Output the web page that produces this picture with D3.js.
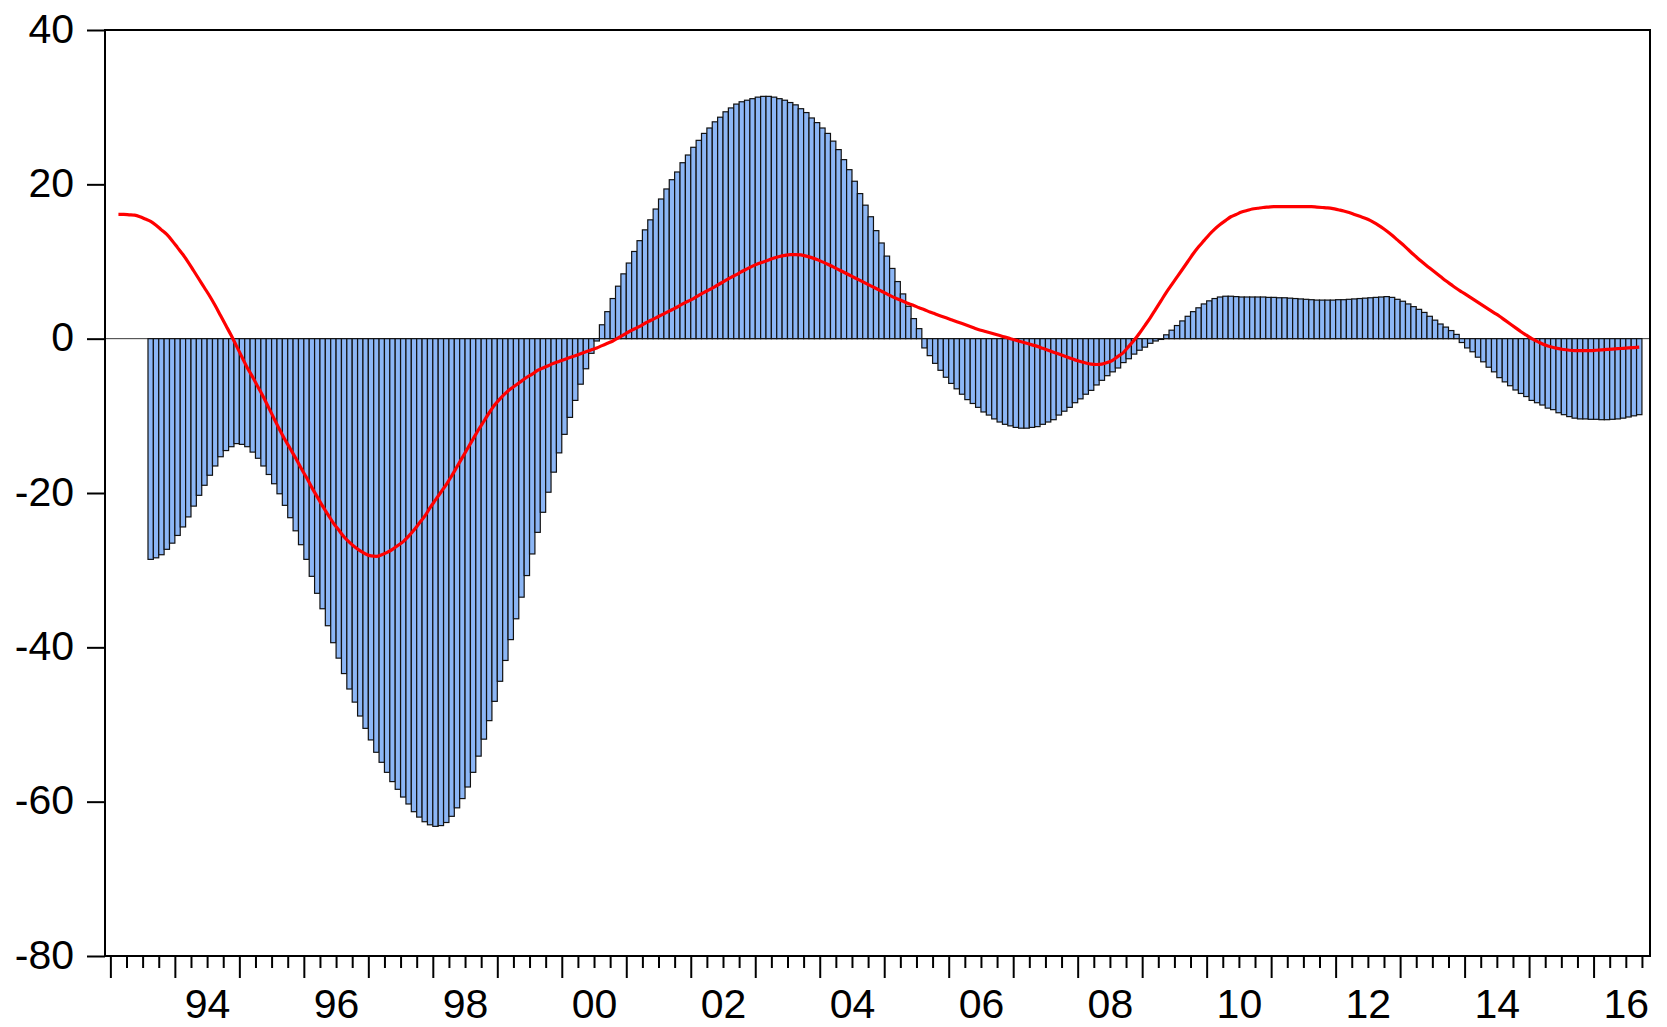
<!DOCTYPE html>
<html>
<head>
<meta charset="utf-8">
<script src="https://cdn.jsdelivr.net/npm/d3@7"></script>
<style>
  html, body { margin: 0; padding: 0; background: #ffffff; }
  svg { display: block; }
  text { font-family: "Liberation Sans", Arial, Helvetica, sans-serif; }
</style>
</head>
<body>
<svg id="chart" width="1667" height="1027"></svg>
<script>
// Monthly cycle component (bars), first observation 1993M08
const barStart = { year: 1993, month: 8 };
const barValues = [
  -28.6, -28.4, -28.0, -27.3, -26.5, -25.5, -24.4, -23.1, -21.7, -20.3, -19.0, -17.7,
  -16.5, -15.3, -14.5, -14.0, -13.6, -13.7, -14.0, -14.7, -15.5, -16.5, -17.6, -18.8,
  -20.1, -21.6, -23.2, -24.9, -26.7, -28.6, -30.8, -33.0, -35.0, -37.2, -39.4, -41.4,
  -43.4, -45.4, -47.1, -48.9, -50.5, -52.0, -53.6, -54.9, -56.2, -57.4, -58.4, -59.4,
  -60.3, -61.3, -62.0, -62.6, -63.0, -63.2, -63.1, -62.7, -61.9, -60.8, -59.6, -58.1,
  -56.2, -54.1, -51.9, -49.5, -47.0, -44.4, -41.7, -39.0, -36.3, -33.5, -30.7, -27.9,
  -25.1, -22.5, -19.9, -17.3, -14.8, -12.4, -10.2, -8.0, -5.9, -3.9, -1.9, -0.3,
  1.8, 3.5, 5.2, 6.8, 8.4, 9.8, 11.3, 12.7, 14.1, 15.4, 16.8, 18.1,
  19.4, 20.6, 21.6, 22.8, 23.8, 24.8, 25.7, 26.6, 27.3, 28.1, 28.7, 29.4,
  29.9, 30.4, 30.7, 30.9, 31.1, 31.3, 31.4, 31.4, 31.3, 31.1, 30.9, 30.6,
  30.3, 29.8, 29.3, 28.6, 28.0, 27.3, 26.6, 25.6, 24.5, 23.2, 21.9, 20.4,
  18.8, 17.3, 15.8, 14.0, 12.4, 10.7, 9.1, 7.4, 5.8, 4.2, 2.6, 1.3,
  -1.2, -2.2, -3.2, -4.1, -5.0, -5.8, -6.5, -7.2, -7.9, -8.4, -8.9, -9.5,
  -9.9, -10.4, -10.8, -11.1, -11.3, -11.5, -11.6, -11.6, -11.5, -11.4, -11.1, -10.8,
  -10.5, -9.9, -9.4, -8.9, -8.3, -7.8, -7.2, -6.7, -6.0, -5.4, -4.8, -4.3,
  -3.8, -3.1, -2.6, -2.0, -1.5, -1.1, -0.6, -0.3, -0.1, 0.5, 1.1, 1.7,
  2.3, 2.9, 3.5, 4.0, 4.5, 4.9, 5.2, 5.4, 5.5, 5.5, 5.45, 5.4,
  5.4, 5.4, 5.4, 5.4, 5.35, 5.35, 5.3, 5.3, 5.25, 5.2, 5.15, 5.1,
  5.05, 5.0, 5.0, 5.0, 5.0, 5.05, 5.05, 5.1, 5.15, 5.2, 5.25, 5.3,
  5.35, 5.4, 5.45, 5.35, 5.1, 4.85, 4.5, 4.15, 3.8, 3.4, 2.9, 2.4,
  1.9, 1.5, 1.05, 0.55, -0.5, -1.2, -1.7, -2.4, -3.0, -3.7, -4.3, -5.05,
  -5.6, -6.1, -6.65, -7.1, -7.5, -8.0, -8.3, -8.6, -9.0, -9.2, -9.6, -9.85,
  -10.1, -10.3, -10.4, -10.4, -10.45, -10.45, -10.5, -10.5, -10.45, -10.4, -10.3, -10.15,
  -10.0, -9.85
];

// Monthly smoothed series (red line), first observation 1993M02
const trendStart = { year: 1993, month: 2 };
const trendValues = [
  16.1, 16.1, 16.05, 16.0, 15.8, 15.5, 15.2, 14.7, 14.1, 13.5,
  12.7, 11.8, 10.9, 9.9, 8.8, 7.7, 6.6, 5.5, 4.3, 3.0, 1.7, 0.4,
  -1.0, -2.4, -3.8, -5.0, -6.3, -7.6, -9.0, -10.4, -11.8, -13.1, -14.3, -15.5,
  -16.8, -18.0, -19.3, -20.5, -21.7, -22.8, -23.9, -24.8, -25.7, -26.4, -27.0, -27.5,
  -27.9, -28.15, -28.2, -28.0, -27.7, -27.3, -26.8, -26.3, -25.6, -24.8, -23.9, -23.0,
  -21.9, -20.9, -19.9, -18.9, -17.8, -16.6, -15.4, -14.2, -13.0, -11.8, -10.7, -9.6,
  -8.6, -7.8, -7.1, -6.5, -6.0, -5.5, -5.0, -4.6, -4.1, -3.8, -3.5, -3.2,
  -2.95, -2.7, -2.45, -2.2, -1.95, -1.7, -1.45, -1.2, -0.9, -0.6, -0.3, 0.1,
  0.5, 0.9, 1.25, 1.6, 2.0, 2.35, 2.7, 3.05, 3.4, 3.75, 4.1, 4.5,
  4.85, 5.2, 5.6, 6.0, 6.35, 6.75, 7.15, 7.55, 7.95, 8.3, 8.7, 9.05,
  9.4, 9.7, 9.95, 10.2, 10.45, 10.65, 10.8, 10.9, 10.9, 10.85, 10.7, 10.5,
  10.25, 9.95, 9.65, 9.3, 8.95, 8.6, 8.25, 7.9, 7.55, 7.2, 6.85, 6.5,
  6.15, 5.8, 5.45, 5.15, 4.85, 4.55, 4.3, 4.0, 3.75, 3.45, 3.2, 2.95,
  2.7, 2.45, 2.2, 1.95, 1.7, 1.45, 1.2, 1.0, 0.8, 0.6, 0.4, 0.2,
  0.0, -0.2, -0.4, -0.6, -0.8, -1.0, -1.25, -1.5, -1.75, -2.0, -2.25, -2.5,
  -2.75, -2.95, -3.15, -3.3, -3.35, -3.3, -3.1, -2.8, -2.3, -1.8, -1.0, -0.2,
  0.7, 1.7, 2.7, 3.8, 4.9, 6.0, 7.0, 8.0, 9.0, 10.0, 11.0, 11.9,
  12.7, 13.5, 14.2, 14.8, 15.3, 15.8, 16.1, 16.4, 16.6, 16.8, 16.9, 17.0,
  17.05, 17.1, 17.1, 17.1, 17.1, 17.1, 17.1, 17.1, 17.1, 17.05, 17.0, 16.95,
  16.85, 16.7, 16.55, 16.35, 16.1, 15.85, 15.6, 15.3, 14.9, 14.45, 13.95, 13.4,
  12.8, 12.2, 11.55, 10.9, 10.3, 9.7, 9.15, 8.6, 8.05, 7.5, 7.0, 6.5,
  6.05, 5.6, 5.15, 4.7, 4.25, 3.8, 3.35, 2.9, 2.4, 1.9, 1.4, 0.9,
  0.45, 0.0, -0.35, -0.7, -0.95, -1.15, -1.3, -1.4, -1.5, -1.55, -1.55, -1.55,
  -1.55, -1.5, -1.45, -1.4, -1.35, -1.3, -1.25, -1.2, -1.15, -1.1
];

// Axis ticks and labels
const yTicks = [-80, -60, -40, -20, 0, 20, 40];
const xLabelYears = [1994, 1996, 1998, 2000, 2002, 2004, 2006, 2008, 2010, 2012, 2014, 2016];
const firstTickYear = 1993;
const lastTick = 2016.75;

// ---- layout ----
const frame = { left: 105, right: 1650, top: 30, bottom: 956 };
const t0 = 1992 + 11 / 12;          // left edge of the first monthly slot (1992M12)
const slotCount = 287.5;            // monthly slots shown on the axis
const fontSize = 41;

const svg = d3.select("#chart");

const x = d3.scaleLinear()
  .domain([t0, t0 + slotCount / 12])
  .range([frame.left, frame.right]);

const y = d3.scaleLinear()
  .domain([-80, 40])
  .range([frame.bottom, frame.top]);

const slotW = x(t0 + 1 / 12) - x(t0);
const toT = (start, i) => start.year + (start.month - 1 + i) / 12;

const bars = barValues.map((v, i) => ({ t: toT(barStart, i), v }));
const trend = trendValues.map((v, i) => ({ t: toT(trendStart, i), v }));

// zero reference line
svg.append("line")
  .attr("x1", frame.left).attr("x2", frame.right)
  .attr("y1", y(0)).attr("y2", y(0))
  .attr("stroke", "#3a3a3a")
  .attr("stroke-width", 1);

// bars
svg.append("g")
  .selectAll("rect")
  .data(bars)
  .join("rect")
  .attr("x", d => x(d.t))
  .attr("width", slotW)
  .attr("y", d => y(Math.max(0, d.v)))
  .attr("height", d => Math.abs(y(d.v) - y(0)))
  .attr("fill", "#8cb6f5")
  .attr("stroke", "#111111")
  .attr("stroke-width", 1.2);

// smoothed series
const line = d3.line()
  .x(d => x(d.t + 1 / 24))
  .y(d => y(d.v))
  .curve(d3.curveMonotoneX);

svg.append("path")
  .datum(trend)
  .attr("d", line)
  .attr("fill", "none")
  .attr("stroke", "#ff0000")
  .attr("stroke-width", 3.2)
  .attr("stroke-linejoin", "round");

// plot frame
svg.append("rect")
  .attr("x", frame.left).attr("y", frame.top)
  .attr("width", frame.right - frame.left)
  .attr("height", frame.bottom - frame.top)
  .attr("fill", "none")
  .attr("stroke", "#000")
  .attr("stroke-width", 2);

// x axis: quarterly minor ticks, yearly major ticks, labels centred in the year
const quarterTicks = d3.range(firstTickYear * 4, lastTick * 4 + 1).map(q => q / 4);
const minorTicks = quarterTicks.filter(t => t % 1 !== 0);
const majorTicks = quarterTicks.filter(t => t % 1 === 0);

function styleAxis(g) {
  g.select(".domain").remove();
  g.selectAll(".tick line").attr("stroke", "#000").attr("stroke-width", 2);
  g.selectAll("text")
    .attr("fill", "#000")
    .attr("font-size", fontSize)
    .attr("font-family", '"Liberation Sans", Arial, sans-serif');
}

svg.append("g")
  .attr("transform", `translate(0,${frame.bottom})`)
  .call(d3.axisBottom(x).tickValues(minorTicks).tickSize(12).tickFormat(""))
  .call(styleAxis);

svg.append("g")
  .attr("transform", `translate(0,${frame.bottom})`)
  .call(d3.axisBottom(x).tickValues(majorTicks).tickSize(22).tickFormat(""))
  .call(styleAxis);

svg.append("g")
  .attr("transform", `translate(0,${frame.bottom})`)
  .call(d3.axisBottom(x)
    .tickValues(xLabelYears.map(yr => yr + 0.5))
    .tickSize(0)
    .tickPadding(33)
    .tickFormat(d => String(Math.floor(d) % 100).padStart(2, "0")))
  .call(styleAxis);

// y axis (plain hyphen for negative labels)
svg.append("g")
  .attr("transform", `translate(${frame.left},0)`)
  .call(d3.axisLeft(y).tickValues(yTicks).tickSize(18).tickPadding(13).tickFormat(d => String(d)))
  .call(styleAxis)
  .call(g => g.selectAll("text").attr("dy", "0.30em"));
</script>
</body>
</html>
